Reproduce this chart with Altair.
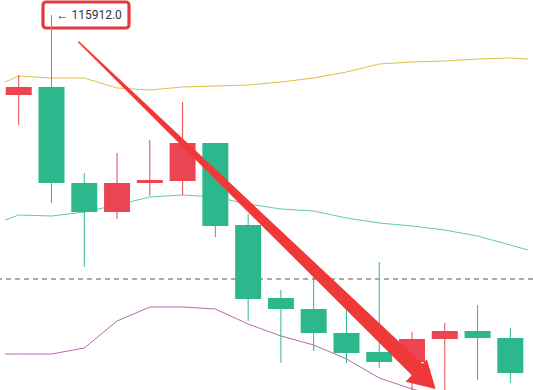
import altair as alt
import pandas as pd

# Candles, oldest first
opens  = [115112, 115192, 114232, 113942, 114232, 114252, 114632, 113812,
          113082, 112972, 112732, 112542, 112442, 112672, 112752, 112682]
highs  = [115312, 115912, 114332, 114532, 114662, 115042, 114632, 113922,
          113162, 113442, 112982, 113442, 112742, 112832, 113012, 112782]
lows   = [114812, 114032, 113392, 113872, 114102, 114112, 113692, 112852,
          112432, 112552, 112432, 112382, 112100, 112050, 112262, 112232]
closes = [115192, 114232, 113942, 114232, 114262, 114632, 113802, 113072,
          112972, 112732, 112532, 112442, 112672, 112752, 112682, 112332]

# Bollinger bands, sampled at each candle plus the two view edges
band_x = [-0.42] + list(range(16)) + [15.54]
upper  = [115242, 115302, 115282, 115282, 115182, 115162, 115192, 115202, 115212,
          115242, 115282, 115342, 115422, 115442, 115452, 115472, 115482, 115472]
middle = [113862, 113912, 113902, 113942, 114012, 114092, 114112, 114092, 114022,
          113972, 113952, 113882, 113832, 113802, 113762, 113702, 113612, 113562]
lower  = [112522, 112522, 112522, 112582, 112852, 112992, 112992, 112972, 112822,
          112702, 112612, 112472, 112282, 112172, 112082, 112012, 111962, 111942]

ref_level = 113272          # dashed reference line
marked = 1                  # candle whose high is labelled

# Trend arrow: shaft from start to end, head at tip
arrow_x = [1.83, 12.30]
arrow_y = [115642, 112322]
arrow_w = [1.5, 16.0]
tip_x, tip_y = 12.72, 112172

GREEN = "#2cb88c"
RED = "#eb4552"
ARROW = "#f03838"

candles = pd.DataFrame({
    "i": list(range(len(opens))),
    "open": opens, "high": highs, "low": lows, "close": closes,
})
candles["dir"] = ["up" if c >= o else "down" for o, c in zip(opens, closes)]

bands = pd.DataFrame({"i": band_x, "upper": upper, "middle": middle, "lower": lower})
arrow = pd.DataFrame({"i": arrow_x, "p": arrow_y, "w": arrow_w})
tip = pd.DataFrame({"i": [tip_x], "p": [tip_y]})
label = pd.DataFrame({"i": [marked], "p": [highs[marked]],
                      "t": [f"\u2190 {highs[marked]:.1f}"]})
level = pd.DataFrame({"p": [ref_level]})

xs = alt.Scale(domain=[-0.419, 15.539], nice=False, zero=False)
ys = alt.Scale(domain=[112162, 116062], nice=False, zero=False)
X = lambda f: alt.X(f, type="quantitative", scale=xs, axis=None)
Y = lambda f: alt.Y(f, type="quantitative", scale=ys, axis=None)
col = alt.Color("dir:N", scale=alt.Scale(domain=["up", "down"], range=[RED, GREEN]),
                legend=None)

box = alt.Chart(label).mark_rect(
    fill="white", stroke="#e03c3f", strokeWidth=3.2, cornerRadius=3
).encode(x=alt.value(43), x2=alt.value(129), y=alt.value(2), y2=alt.value(28))

def band(field, color):
    return alt.Chart(bands).mark_line(color=color, strokeWidth=1, clip=True).encode(
        x=X("i"), y=Y(field))

rule = alt.Chart(level).mark_rule(color="#555555", strokeWidth=1,
                                  strokeDash=[5, 4]).encode(y=Y("p"))

wicks = alt.Chart(candles).mark_rule(strokeWidth=1, clip=True).encode(
    x=X("i"), y=Y("low"), y2="high", color=col)

bodies = alt.Chart(candles).mark_bar(size=26, clip=True).encode(
    x=X("i"), y=Y("open"), y2="close", color=col)

shaft = alt.Chart(arrow).mark_trail(color=ARROW, clip=True).encode(
    x=X("i"), y=Y("p"), size=alt.Size("w:Q", scale=None, legend=None))

head = alt.Chart(tip).mark_point(
    shape="M0,0 L-1.15,-2 L1.15,-2 Z", filled=True, fill=ARROW,
    opacity=1, size=720, angle=313.6, strokeWidth=0, clip=True
).encode(x=X("i"), y=Y("p"))

text = alt.Chart(label).mark_text(
    align="left", baseline="middle", dx=5, font="Roboto", fontSize=12, color="#333333"
).encode(x=X("i"), y=Y("p"), text="t:N")

chart = alt.layer(
    box,
    band("upper", "#e0c048"), band("middle", "#62c9b1"), band("lower", "#b66aae"),
    rule, wicks, bodies, shaft, head, text,
).properties(
    width=533, height=390, padding=0, autosize=alt.AutoSizeParams(type="none"),
    background="white",
).configure_view(stroke=None)

chart.save("out.html", embed_options={"renderer": "svg", "actions": False})
